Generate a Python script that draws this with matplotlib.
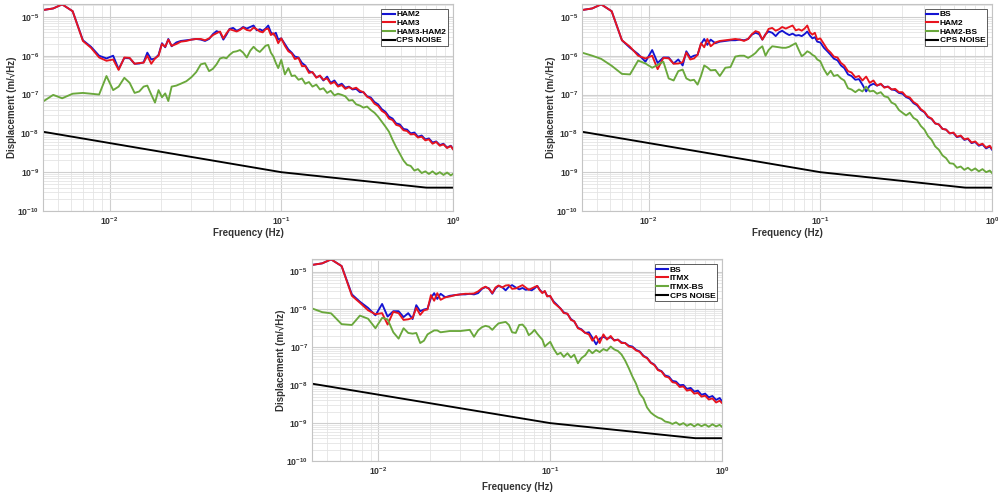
import matplotlib
matplotlib.use("Agg")
from matplotlib import pyplot as plt
from matplotlib.ticker import LogLocator, FuncFormatter, NullFormatter
import numpy as np

plt.rcParams['font.family'] = ['Liberation Sans', 'DejaVu Sans']
plt.rcParams['mathtext.fontset'] = 'custom'
plt.rcParams['mathtext.rm'] = 'Liberation Sans'
plt.rcParams['mathtext.bf'] = 'Liberation Sans:bold'

# frequency grid (Hz), shared by all measured spectra
freq = [0.0041, 0.0047, 0.0053, 0.0061, 0.0070, 0.0078, 0.0087, 0.0096, 0.0105, 0.0113,
        0.0122, 0.0131, 0.0140, 0.0149, 0.0158, 0.0166, 0.0175, 0.0184, 0.0193, 0.0202,
        0.0211, 0.0220, 0.0230, 0.0245, 0.0260, 0.0280, 0.0300, 0.0320, 0.0340, 0.0360,
        0.0380, 0.0400, 0.0420, 0.0440, 0.0460, 0.0480, 0.0500, 0.0525, 0.0550, 0.0575,
        0.0600, 0.0630, 0.0660, 0.0690, 0.0720, 0.0750, 0.0780, 0.0810, 0.0840, 0.0870,
        0.0900, 0.0930, 0.0960, 0.1000, 0.105, 0.110, 0.115, 0.120, 0.126, 0.132,
        0.138, 0.145, 0.152, 0.160, 0.168, 0.176, 0.185, 0.194, 0.204, 0.214,
        0.225, 0.236, 0.248, 0.260, 0.273, 0.287, 0.301, 0.316, 0.332, 0.349,
        0.366, 0.385, 0.404, 0.424, 0.445, 0.467, 0.490, 0.515, 0.540, 0.567,
        0.596, 0.625, 0.657, 0.690, 0.724, 0.760, 0.798, 0.838, 0.880, 0.924,
        0.970, 1.000]

ham3 = [1.5e-5, 1.65e-5, 2.1e-5, 1.4e-5, 2.4e-6, 1.6e-6, 9.0e-7, 7.4e-7, 8.0e-7, 4.3e-7,
        9.0e-7, 8.8e-7, 6.2e-7, 6.5e-7, 6.6e-7, 1.0e-6, 6.2e-7, 8.5e-7, 1.0e-6, 2.0e-6,
        1.7e-6, 2.6e-6, 1.8e-6, 2.0e-6, 2.3e-6, 2.4e-6, 2.6e-6, 2.7e-6, 2.7e-6, 2.5e-6,
        2.8e-6, 3.4e-6, 3.8e-6, 4.2e-6, 2.8e-6, 3.8e-6, 4.8e-6, 4.5e-6, 4.2e-6, 4.6e-6,
        5.3e-6, 4.6e-6, 4.4e-6, 5.3e-6, 4.8e-6, 4.2e-6, 4.0e-6, 4.8e-6, 5.0e-6, 3.4e-6,
        3.8e-6, 3.0e-6, 2.1e-6, 2.8e-6, 1.8e-6, 1.3e-6, 1.15e-6, 8.2e-7, 8.8e-7, 5.4e-7,
        5.4e-7, 3.6e-7, 3.8e-7, 2.7e-7, 3.1e-7, 2.4e-7, 2.6e-7, 1.9e-7, 2.1e-7, 1.6e-7,
        1.75e-7, 1.4e-7, 1.55e-7, 1.4e-7, 1.5e-7, 1.25e-7, 1.15e-7, 8.8e-8, 7.8e-8, 5.8e-8,
        5.1e-8, 3.8e-8, 3.3e-8, 2.4e-8, 2.2e-8, 1.65e-8, 1.55e-8, 1.2e-8, 1.15e-8, 9.4e-9,
        9.6e-9, 7.8e-9, 8.2e-9, 6.6e-9, 7.0e-9, 5.4e-9, 6.0e-9, 4.8e-9, 5.2e-9, 4.2e-9,
        4.7e-9, 3.9e-9]

ham2 = [1.5e-5, 1.65e-5, 2.1e-5, 1.4e-5, 2.5e-6, 1.7e-6, 1.0e-6, 8.5e-7, 1.0e-6, 4.5e-7,
        8.8e-7, 8.6e-7, 6.2e-7, 6.3e-7, 6.8e-7, 1.2e-6, 8.0e-7, 8.5e-7, 1.05e-6, 2.1e-6,
        1.65e-6, 2.7e-6, 1.75e-6, 2.2e-6, 2.4e-6, 2.5e-6, 2.6e-6, 2.7e-6, 2.6e-6, 2.4e-6,
        2.7e-6, 3.6e-6, 4.3e-6, 4.0e-6, 2.6e-6, 3.5e-6, 4.9e-6, 5.2e-6, 4.4e-6, 4.8e-6,
        5.5e-6, 5.0e-6, 5.5e-6, 6.0e-6, 4.5e-6, 4.8e-6, 4.4e-6, 5.0e-6, 6.0e-6, 4.0e-6,
        3.5e-6, 3.9e-6, 2.6e-6, 2.8e-6, 2.0e-6, 1.45e-6, 1.2e-6, 9.5e-7, 9.0e-7, 6.5e-7,
        5.6e-7, 4.0e-7, 3.7e-7, 2.8e-7, 3.0e-7, 2.3e-7, 2.9e-7, 2.0e-7, 2.3e-7, 1.7e-7,
        1.9e-7, 1.5e-7, 1.6e-7, 1.35e-7, 1.4e-7, 1.15e-7, 1.15e-7, 9.0e-8, 8.4e-8, 6.4e-8,
        5.6e-8, 4.2e-8, 3.6e-8, 2.7e-8, 2.4e-8, 1.8e-8, 1.7e-8, 1.3e-8, 1.25e-8, 1.0e-8,
        1.05e-8, 8.2e-9, 8.8e-9, 7.0e-9, 7.4e-9, 5.8e-9, 6.2e-9, 5.0e-9, 5.4e-9, 4.3e-9,
        4.8e-9, 4.0e-9]

bs = [1.5e-5, 1.65e-5, 2.1e-5, 1.4e-5, 2.5e-6, 1.6e-6, 1.1e-6, 7.0e-7, 1.4e-6, 6.5e-7,
      9.0e-7, 9.0e-7, 6.3e-7, 8.0e-7, 5.6e-7, 1.3e-6, 9.0e-7, 1.0e-6, 1.05e-6, 2.0e-6,
      2.7e-6, 1.9e-6, 2.6e-6, 2.1e-6, 2.3e-6, 2.4e-6, 2.5e-6, 2.5e-6, 2.6e-6, 2.5e-6,
      2.7e-6, 3.5e-6, 3.9e-6, 3.6e-6, 2.6e-6, 3.6e-6, 4.2e-6, 3.9e-6, 3.2e-6, 4.0e-6,
      4.4e-6, 3.8e-6, 3.4e-6, 3.7e-6, 3.3e-6, 3.4e-6, 3.2e-6, 3.6e-6, 4.2e-6, 3.3e-6,
      2.8e-6, 3.0e-6, 2.3e-6, 2.2e-6, 1.6e-6, 1.3e-6, 1.05e-6, 8.4e-7, 7.6e-7, 5.6e-7,
      4.8e-7, 3.3e-7, 3.0e-7, 2.4e-7, 2.5e-7, 1.8e-7, 1.2e-7, 1.7e-7, 1.9e-7, 1.7e-7,
      1.85e-7, 1.55e-7, 1.6e-7, 1.35e-7, 1.3e-7, 1.1e-7, 1.05e-7, 8.6e-8, 7.8e-8, 6.0e-8,
      5.3e-8, 4.0e-8, 3.5e-8, 2.6e-8, 2.35e-8, 1.8e-8, 1.7e-8, 1.3e-8, 1.25e-8, 1.0e-8,
      1.02e-8, 8.0e-9, 8.5e-9, 6.8e-9, 7.2e-9, 5.6e-9, 6.0e-9, 4.8e-9, 5.2e-9, 4.1e-9,
      4.6e-9, 3.8e-9]

itmx = [1.5e-5, 1.65e-5, 2.1e-5, 1.4e-5, 2.3e-6, 1.5e-6, 9.5e-7, 7.5e-7, 8.0e-7, 4.0e-7,
        8.7e-7, 8.0e-7, 5.3e-7, 5.5e-7, 6.0e-7, 1.1e-6, 7.2e-7, 9.5e-7, 1.0e-6, 2.4e-6,
        1.7e-6, 2.7e-6, 1.8e-6, 2.1e-6, 2.2e-6, 2.4e-6, 2.5e-6, 2.6e-6, 2.6e-6, 2.65e-6,
        3.0e-6, 3.6e-6, 4.0e-6, 3.5e-6, 2.7e-6, 3.8e-6, 4.3e-6, 3.8e-6, 4.3e-6, 4.4e-6,
        3.5e-6, 3.6e-6, 4.0e-6, 4.4e-6, 3.8e-6, 3.3e-6, 3.6e-6, 3.9e-6, 4.2e-6, 3.2e-6,
        2.7e-6, 3.1e-6, 2.2e-6, 2.3e-6, 1.5e-6, 1.25e-6, 1.05e-6, 8.0e-7, 7.8e-7, 5.3e-7,
        4.9e-7, 3.2e-7, 2.9e-7, 2.4e-7, 2.2e-7, 1.5e-7, 2.0e-7, 1.3e-7, 2.2e-7, 1.6e-7,
        2.0e-7, 1.5e-7, 1.6e-7, 1.3e-7, 1.3e-7, 1.05e-7, 1.0e-7, 8.3e-8, 7.6e-8, 5.8e-8,
        5.2e-8, 3.9e-8, 3.4e-8, 2.5e-8, 2.3e-8, 1.7e-8, 1.6e-8, 1.2e-8, 1.15e-8, 9.0e-9,
        9.3e-9, 7.2e-9, 7.6e-9, 6.0e-9, 6.3e-9, 5.0e-9, 5.3e-9, 4.2e-9, 4.5e-9, 3.5e-9,
        3.9e-9, 3.4e-9]

ham3_ham2 = [6.6e-8, 9.8e-8, 8.0e-8, 1.05e-7, 1.1e-7, 1.05e-7, 1.0e-7, 3.0e-7, 1.3e-7, 1.6e-7,
             2.7e-7, 2.0e-7, 1.1e-7, 1.2e-7, 1.6e-7, 1.7e-7, 1.0e-7, 6.2e-8, 1.3e-7, 8.5e-8,
             1.07e-7, 6.8e-8, 1.6e-7, 1.7e-7, 1.9e-7, 2.2e-7, 2.8e-7, 3.8e-7, 6.0e-7, 6.4e-7,
             4.0e-7, 4.6e-7, 6.0e-7, 8.5e-7, 9.0e-7, 8.6e-7, 1.05e-6, 1.25e-6, 1.3e-6, 1.4e-6,
             1.2e-6, 9.0e-7, 1.35e-6, 1.7e-6, 1.4e-6, 1.25e-6, 1.5e-6, 1.8e-6, 1.9e-6, 1.2e-6,
             9.5e-7, 6.5e-7, 4.8e-7, 7.8e-7, 3.3e-7, 4.8e-7, 3.0e-7, 3.1e-7, 2.4e-7, 2.6e-7,
             1.9e-7, 2.1e-7, 1.6e-7, 1.8e-7, 1.35e-7, 1.45e-7, 1.1e-7, 1.25e-7, 9.5e-8, 1.05e-7,
             9.8e-8, 9.0e-8, 7.0e-8, 7.2e-8, 5.6e-8, 5.2e-8, 4.6e-8, 4.9e-8, 4.0e-8, 3.4e-8,
             2.7e-8, 2.0e-8, 1.5e-8, 1.1e-8, 6.8e-9, 4.4e-9, 3.0e-9, 2.0e-9, 1.55e-9, 1.45e-9,
             1.1e-9, 1.2e-9, 9.5e-10, 1.05e-9, 9.0e-10, 1.05e-9, 8.8e-10, 1.0e-9, 8.5e-10, 9.8e-10,
             8.3e-10, 9.0e-10]

ham2_bs = [1.2e-6, 1.0e-6, 8.3e-7, 5.5e-7, 3.4e-7, 3.3e-7, 7.5e-7, 6.3e-7, 4.9e-7, 5.8e-7,
           7.0e-7, 2.6e-7, 2.3e-7, 4.0e-7, 4.4e-7, 2.6e-7, 2.3e-7, 2.4e-7, 1.8e-7, 3.0e-7,
           5.6e-7, 5.0e-7, 4.2e-7, 4.3e-7, 3.0e-7, 4.9e-7, 5.1e-7, 9.5e-7, 1.0e-6, 1.0e-6,
           8.8e-7, 1.0e-6, 1.18e-6, 1.5e-6, 1.75e-6, 1.0e-6, 1.4e-6, 1.75e-6, 1.7e-6, 1.65e-6,
           1.6e-6, 1.6e-6, 1.7e-6, 1.9e-6, 2.1e-6, 1.4e-6, 9.7e-7, 1.1e-6, 1.3e-6, 1.2e-6,
           1.05e-6, 9.7e-7, 8.0e-7, 7.2e-7, 4.5e-7, 3.2e-7, 4.1e-7, 3.0e-7, 3.2e-7, 2.6e-7,
           2.3e-7, 1.45e-7, 1.35e-7, 1.15e-7, 1.35e-7, 1.2e-7, 1.6e-7, 1.2e-7, 1.25e-7, 1.05e-7,
           1.15e-7, 9.0e-8, 8.5e-8, 6.2e-8, 5.6e-8, 4.0e-8, 3.4e-8, 2.9e-8, 3.4e-8, 2.5e-8,
           2.2e-8, 1.55e-8, 1.25e-8, 8.5e-9, 6.8e-9, 4.6e-9, 3.8e-9, 2.7e-9, 2.3e-9, 1.7e-9,
           1.65e-9, 1.3e-9, 1.4e-9, 1.15e-9, 1.3e-9, 1.1e-9, 1.25e-9, 1.05e-9, 1.2e-9, 1.0e-9,
           1.1e-9, 9.5e-10]

itmx_bs = [1.07e-6, 8.5e-7, 7.9e-7, 4.1e-7, 3.9e-7, 6.9e-7, 5.7e-7, 3.2e-7, 6.0e-7, 5.5e-7,
           2.5e-7, 1.7e-7, 3.2e-7, 2.4e-7, 2.3e-7, 2.4e-7, 1.3e-7, 1.5e-7, 2.2e-7, 2.5e-7,
           2.8e-7, 2.8e-7, 2.5e-7, 2.6e-7, 2.7e-7, 2.7e-7, 2.7e-7, 2.8e-7, 2.9e-7, 1.9e-7,
           2.8e-7, 3.4e-7, 3.7e-7, 3.5e-7, 2.9e-7, 3.6e-7, 4.3e-7, 4.5e-7, 4.7e-7, 3.9e-7,
           2.5e-7, 2.4e-7, 3.9e-7, 4.0e-7, 3.2e-7, 2.1e-7, 2.4e-7, 2.9e-7, 2.3e-7, 1.9e-7,
           1.6e-7, 1.05e-7, 1.2e-7, 1.4e-7, 9.0e-8, 6.5e-8, 7.2e-8, 5.6e-8, 7.0e-8, 5.4e-8,
           6.4e-8, 3.8e-8, 5.2e-8, 6.2e-8, 8.6e-8, 7.0e-8, 8.5e-8, 7.5e-8, 9.0e-8, 8.2e-8,
           1.05e-7, 8.8e-8, 8.0e-8, 6.5e-8, 4.5e-8, 2.8e-8, 1.7e-8, 1.1e-8, 6.0e-9, 4.5e-9,
           2.6e-9, 1.9e-9, 1.6e-9, 1.4e-9, 1.3e-9, 1.1e-9, 1.05e-9, 9.5e-10, 1.05e-9, 9.0e-10,
           1.0e-9, 8.5e-10, 9.5e-10, 8.2e-10, 9.4e-10, 8.3e-10, 9.2e-10, 8.0e-10, 9.3e-10, 8.2e-10,
           9.0e-10, 8.0e-10]

# CPS sensor noise floor
cps_freq = [0.0041, 0.1, 0.7, 1.0]
cps_noise = [1.1e-8, 1.0e-9, 4.0e-10, 4.0e-10]

x_ticks = [1e-2, 1e-1, 1e0]
y_ticks = [1e-10, 1e-9, 1e-8, 1e-7, 1e-6, 1e-5]

blue = '#1414d2'
red = '#e8141e'
green = '#6aa83c'

panels = [
    ([0.0431, 0.5763, 0.4108, 0.4157], ham2, ham3, ham3_ham2, ['HAM2', 'HAM3', 'HAM3-HAM2'], -0.082),
    ([0.5832, 0.5763, 0.4108, 0.4157], bs, ham2, ham2_bs, ['BS', 'HAM2', 'HAM2-BS'], -0.082),
    ([0.3126, 0.0743, 0.4108, 0.4056], bs, itmx, itmx_bs, ['BS', 'ITMX', 'ITMX-BS'], -0.105),
]


def dec_label(v, pos):
    e = int(round(np.log10(v)))
    return r'$\mathbf{10^{%d}}$' % e


fig = plt.figure(figsize=(9.98, 4.98), dpi=100)

for rect, first, second, diff, names, xlab_y in panels:
    ax = fig.add_axes(rect)
    ax.plot(freq, first, color=blue, lw=1.35, label=names[0])
    ax.plot(freq, second, color=red, lw=1.35, label=names[1])
    ax.plot(freq, diff, color=green, lw=1.35, label=names[2])
    ax.plot(cps_freq, cps_noise, color='black', lw=1.35, label='CPS NOISE')
    ax.set_xscale('log')
    ax.set_yscale('log')

    ax.set_xticks(x_ticks)
    ax.set_yticks(y_ticks)
    ax.yaxis.set_minor_locator(LogLocator(base=10, subs=range(2, 10), numticks=20))
    ax.xaxis.set_minor_locator(LogLocator(base=10, subs=range(2, 10), numticks=20))
    ax.xaxis.set_major_formatter(FuncFormatter(dec_label))
    ax.yaxis.set_major_formatter(FuncFormatter(dec_label))
    ax.xaxis.set_minor_formatter(NullFormatter())
    ax.yaxis.set_minor_formatter(NullFormatter())
    ax.set_xlim(0.0041, 1.0)
    ax.set_ylim(1e-10, 2.15e-5)

    ax.grid(True, which='major', color='#cfcfcf', lw=0.8)
    ax.grid(True, which='minor', color='#e4e4e4', lw=0.6)
    ax.set_axisbelow(True)
    for sp in ax.spines.values():
        sp.set_color('#c4c4c4')
        sp.set_linewidth(0.8)
    ax.tick_params(which='both', length=0, labelsize=6.2, labelcolor='#333333', pad=3)

    ax.set_xlabel('Frequency (Hz)', fontsize=7, fontweight='bold', color='#333333')
    ax.set_ylabel('Displacement (m/\u221aHz)', fontsize=7, fontweight='bold', color='#333333')
    ax.xaxis.set_label_coords(0.5, xlab_y)
    ax.yaxis.set_label_coords(-0.063, 0.5)

    leg = ax.legend(loc='upper right', prop={'weight': 'bold', 'size': 6},
                    frameon=True, fancybox=False, framealpha=1, edgecolor='#444444',
                    borderpad=0.2, labelspacing=0.1, handlelength=1.4, handletextpad=0.2,
                    borderaxespad=0.6)
    leg.get_frame().set_linewidth(0.6)
    for line in leg.get_lines():
        line.set_linewidth(1.5)

fig.savefig('out.png', dpi=100, facecolor='white')
